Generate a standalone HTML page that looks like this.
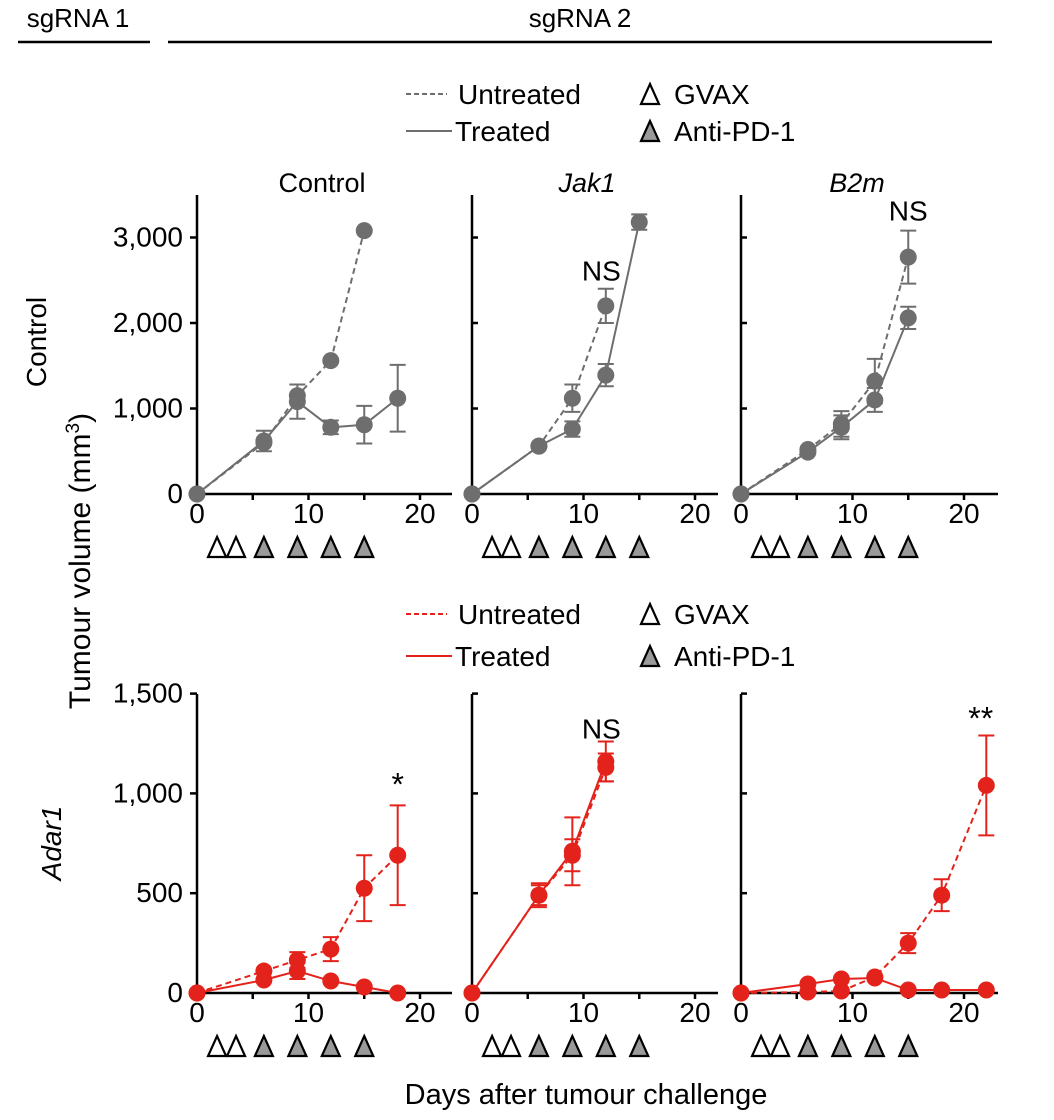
<!DOCTYPE html>
<html><head><meta charset="utf-8"><style>
html,body{margin:0;padding:0;background:#fff;}
svg{display:block;font-family:"Liberation Sans",Arial,sans-serif;}
</style></head><body>
<svg id="fig" width="1054" height="1120" viewBox="0 0 1054 1120">
<g>
<text x="78" y="27" font-size="26" text-anchor="middle">sgRNA 1</text>
<line x1="18" y1="42" x2="150" y2="42" stroke="#000" stroke-width="2.5"/>
<text x="580" y="27" font-size="26" text-anchor="middle">sgRNA 2</text>
<line x1="168" y1="42" x2="992" y2="42" stroke="#000" stroke-width="2.5"/>
</g>
<text x="322" y="192" font-size="27" text-anchor="middle">Control</text>
<text x="587" y="192" font-size="27" font-style="italic" text-anchor="middle">Jak1</text>
<text x="857" y="192" font-size="27" font-style="italic" text-anchor="middle">B2m</text>
<text transform="translate(46,342) rotate(-90)" font-size="28" text-anchor="middle">Control</text>
<text transform="translate(61,843) rotate(-90)" font-size="28" font-style="italic" text-anchor="middle">Adar1</text>
<text transform="translate(90,561) rotate(-90)" font-size="30" text-anchor="middle">Tumour volume (mm<tspan font-size="19" dy="-11">3</tspan><tspan dy="11">)</tspan></text>
<text x="586" y="1104" font-size="29" text-anchor="middle">Days after tumour challenge</text>
<g id="plots"></g>
</svg>
<script>
// ---- data ----
const xTicks = [0, 10, 20];
const topYTicks = [0, 1000, 2000, 3000];
const topYTickLabels = ["0", "1,000", "2,000", "3,000"];
const botYTicks = [0, 500, 1000, 1500];
const botYTickLabels = ["0", "500", "1,000", "1,500"];
const gvaxDays = [1.8, 3.5];
const pd1Days = [6, 9, 12, 15];

// top row: Control sgRNA1
const ctrlCtrlUntDays = [0, 6, 9, 12, 15];
const ctrlCtrlUntVals = [0, 600, 1150, 1560, 3080];
const ctrlCtrlUntErr = [0, 0, 0, 0, 0];
const ctrlCtrlTrtDays = [0, 6, 9, 12, 15, 18];
const ctrlCtrlTrtVals = [0, 620, 1080, 780, 810, 1120];
const ctrlCtrlTrtErr = [0, 120, 200, 80, 220, 390];
// Jak1
const ctrlJakUntDays = [0, 6, 9, 12];
const ctrlJakUntVals = [0, 560, 1120, 2200];
const ctrlJakUntErr = [0, 0, 160, 200];
const ctrlJakTrtDays = [0, 6, 9, 12, 15];
const ctrlJakTrtVals = [0, 560, 760, 1390, 3180];
const ctrlJakTrtErr = [0, 0, 90, 130, 90];
// B2m
const ctrlB2mUntDays = [0, 6, 9, 12, 15];
const ctrlB2mUntVals = [0, 520, 820, 1320, 2770];
const ctrlB2mUntErr = [0, 0, 150, 260, 310];
const ctrlB2mTrtDays = [0, 6, 9, 12, 15];
const ctrlB2mTrtVals = [0, 490, 780, 1100, 2060];
const ctrlB2mTrtErr = [0, 0, 140, 140, 130];

// bottom row: Adar1
const adarCtrlUntDays = [0, 6, 9, 12, 15, 18];
const adarCtrlUntVals = [0, 110, 165, 220, 525, 690];
const adarCtrlUntErr = [0, 0, 40, 60, 165, 250];
const adarCtrlTrtDays = [0, 6, 9, 12, 15, 18];
const adarCtrlTrtVals = [0, 65, 110, 60, 30, 0];
const adarCtrlTrtErr = [0, 0, 40, 0, 0, 0];
const adarJakUntDays = [0, 6, 9, 12];
const adarJakUntVals = [0, 490, 690, 1130];
const adarJakUntErr = [0, 60, 80, 70];
const adarJakTrtDays = [0, 6, 9, 12];
const adarJakTrtVals = [0, 490, 710, 1160];
const adarJakTrtErr = [0, 50, 170, 100];
const adarB2mUntDays = [0, 6, 9, 12, 15, 18, 22];
const adarB2mUntVals = [0, 5, 10, 80, 250, 490, 1040];
const adarB2mUntErr = [0, 0, 0, 0, 50, 80, 250];
const adarB2mTrtDays = [0, 6, 9, 12, 15, 18, 22];
const adarB2mTrtVals = [0, 45, 70, 75, 15, 15, 15];
const adarB2mTrtErr = [0, 0, 0, 0, 0, 0, 0];

const NS = "http://www.w3.org/2000/svg";
const root = document.getElementById('plots');
function mk(tag, attrs, parent) {
  const e = document.createElementNS(NS, tag);
  for (const k in attrs) e.setAttribute(k, attrs[k]);
  (parent || root).appendChild(e);
  return e;
}
const GREY = "#6e6e6e", RED = "#e3231b";
const PXDAY = 11.15;

function panel(opts) {
  const g = mk('g', {});
  
  
  const x0 = opts.x0, y0 = opts.y0;
  const sx = d => x0 + d * PXDAY;
  const sy = v => y0 - v * opts.pxPer;
  const ya = mk('line', {x1: x0, y1: opts.yTop, x2: x0, y2: y0, stroke: '#000', 'stroke-width': 2.5}, g);
  
  
  const xa = mk('line', {x1: x0, y1: y0, x2: opts.xEnd, y2: y0, stroke: '#000', 'stroke-width': 2.5}, g);
  
  
  opts.yTicks.forEach((t, i) => {
    const y = sy(t);
    if (opts.showLabels) {
      mk('line', {x1: x0 - 7, y1: y, x2: x0, y2: y, stroke: '#000', 'stroke-width': 2.5}, g);
      const tl = mk('text', {x: x0 - 14, y: y + 9, 'font-size': 28, 'text-anchor': 'end'}, g);
      tl.textContent = opts.yLabels[i];
      
      
    } else if (t > 0) {
      mk('line', {x1: x0, y1: y, x2: x0 + 6, y2: y, stroke: '#000', 'stroke-width': 2.5}, g);
    }
  });
  [5, 10, 15, 20].forEach(d => {
    mk('line', {x1: sx(d), y1: y0, x2: sx(d), y2: y0 + 6, stroke: '#000', 'stroke-width': 2.5}, g);
  });
  xTicks.forEach(d => {
    const tl = mk('text', {x: sx(d), y: y0 + 29, 'font-size': 28, 'text-anchor': 'middle'}, g);
    tl.textContent = String(d);
    
    
  });
  const ty = y0 + 53;
  gvaxDays.forEach(d => {
    const c = sx(d);
    const t = mk('polygon', {points: `${c - 9},${ty + 10} ${c + 9},${ty + 10} ${c},${ty - 10}`, fill: '#fff', stroke: '#000', 'stroke-width': 2.2}, g);
    
    
  });
  pd1Days.forEach(d => {
    const c = sx(d);
    const t = mk('polygon', {points: `${c - 9},${ty + 10} ${c + 9},${ty + 10} ${c},${ty - 10}`, fill: '#9a9a9a', stroke: '#000', 'stroke-width': 2.2}, g);
    
    
  });
  opts.series.forEach(s => {
    const sg = mk('g', {}, g);
    
    
    const pts = s.days.map((d, i) => sx(d) + ',' + sy(s.vals[i])).join(' ');
    const pl = mk('polyline', {points: pts, fill: 'none', stroke: opts.color, 'stroke-width': 2, 'stroke-dasharray': s.dashed ? '6,4' : 'none'}, sg);
    
    
    s.days.forEach((d, i) => {
      const e = s.err[i];
      if (e > 0) {
        const x = sx(d), ya1 = sy(s.vals[i] + e), yb = sy(s.vals[i] - e);
        mk('path', {d: `M${x},${ya1}V${yb}M${x - 8},${ya1}H${x + 8}M${x - 8},${yb}H${x + 8}`, stroke: opts.color, 'stroke-width': 2, fill: 'none'}, sg);
      }
      const c = mk('circle', {cx: sx(d), cy: sy(s.vals[i]), r: 8.5, fill: opts.color}, sg);
      
      
    });
  });
  if (opts.sig) {
    const st = mk('text', {x: sx(opts.sig.day), y: sy(opts.sig.val), 'font-size': opts.sig.size || 28, 'text-anchor': 'middle'}, g);
    st.textContent = opts.sig.text;
    
    
  }
}
function ser(name, days, vals, err, dashed) { return {name, days, vals, err, dashed}; }

const TOP = {y0: 494, yTop: 195, pxPer: 0.0855, yTicks: topYTicks, yLabels: topYTickLabels, color: GREY};
const BOT = {y0: 993, yTop: 694, pxPer: 0.1996, yTicks: botYTicks, yLabels: botYTickLabels, color: RED};

panel(Object.assign({}, TOP, {name: 'panel-control-control', x0: 197, xEnd: 452, showLabels: true,
  series: [ser('untreated-series', ctrlCtrlUntDays, ctrlCtrlUntVals, ctrlCtrlUntErr, true),
           ser('treated-series', ctrlCtrlTrtDays, ctrlCtrlTrtVals, ctrlCtrlTrtErr, false)]}));
panel(Object.assign({}, TOP, {name: 'panel-control-jak1', x0: 472, xEnd: 718, showLabels: false,
  series: [ser('untreated-series', ctrlJakUntDays, ctrlJakUntVals, ctrlJakUntErr, true),
           ser('treated-series', ctrlJakTrtDays, ctrlJakTrtVals, ctrlJakTrtErr, false)],
  sig: {day: 11.6, val: 2500, text: 'NS'}}));
panel(Object.assign({}, TOP, {name: 'panel-control-b2m', x0: 741, xEnd: 998, showLabels: false,
  series: [ser('untreated-series', ctrlB2mUntDays, ctrlB2mUntVals, ctrlB2mUntErr, true),
           ser('treated-series', ctrlB2mTrtDays, ctrlB2mTrtVals, ctrlB2mTrtErr, false)],
  sig: {day: 15, val: 3200, text: 'NS'}}));
panel(Object.assign({}, BOT, {name: 'panel-adar1-control', x0: 197, xEnd: 452, showLabels: true,
  series: [ser('untreated-series', adarCtrlUntDays, adarCtrlUntVals, adarCtrlUntErr, true),
           ser('treated-series', adarCtrlTrtDays, adarCtrlTrtVals, adarCtrlTrtErr, false)],
  sig: {day: 18, val: 990, text: '*', size: 32}}));
panel(Object.assign({}, BOT, {name: 'panel-adar1-jak1', x0: 472, xEnd: 718, showLabels: false,
  series: [ser('untreated-series', adarJakUntDays, adarJakUntVals, adarJakUntErr, true),
           ser('treated-series', adarJakTrtDays, adarJakTrtVals, adarJakTrtErr, false)],
  sig: {day: 11.6, val: 1275, text: 'NS'}}));
panel(Object.assign({}, BOT, {name: 'panel-adar1-b2m', x0: 741, xEnd: 998, showLabels: false,
  series: [ser('untreated-series', adarB2mUntDays, adarB2mUntVals, adarB2mUntErr, true),
           ser('treated-series', adarB2mTrtDays, adarB2mTrtVals, adarB2mTrtErr, false)],
  sig: {day: 21.5, val: 1320, text: '**', size: 32}}));

function legend(y1, y2, color, name) {
  const g = mk('g', {});
  
  
  mk('line', {x1: 406, y1: y1, x2: 447, y2: y1, stroke: color, 'stroke-width': 2, 'stroke-dasharray': '5,3'}, g);
  const t1 = mk('text', {x: 458, y: y1 + 10, 'font-size': 28}, g); t1.textContent = 'Untreated';
  
  
  mk('line', {x1: 406, y1: y2, x2: 452, y2: y2, stroke: color, 'stroke-width': 2}, g);
  const t2 = mk('text', {x: 455, y: y2 + 10, 'font-size': 28}, g); t2.textContent = 'Treated';
  
  
  const c = 650;
  mk('polygon', {points: `${c - 9},${y1 + 10} ${c + 9},${y1 + 10} ${c},${y1 - 10}`, fill: '#fff', stroke: '#000', 'stroke-width': 2.2}, g);
  const t3 = mk('text', {x: 674, y: y1 + 10, 'font-size': 28}, g); t3.textContent = 'GVAX';
  
  
  mk('polygon', {points: `${c - 9},${y2 + 10} ${c + 9},${y2 + 10} ${c},${y2 - 10}`, fill: '#9a9a9a', stroke: '#000', 'stroke-width': 2.2}, g);
  const t4 = mk('text', {x: 674, y: y2 + 10, 'font-size': 28}, g); t4.textContent = 'Anti-PD-1';
  
  
}
legend(94, 131, GREY, 'legend-top');
legend(614, 656, RED, 'legend-bottom');
</script>
</body></html>
